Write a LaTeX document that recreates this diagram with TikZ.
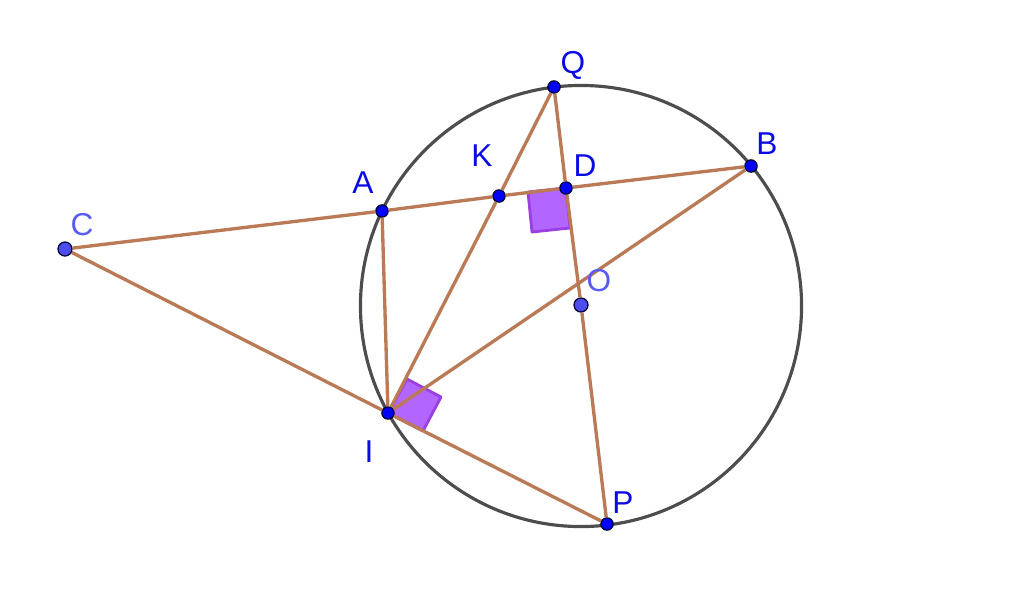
\documentclass[tikz,border=0pt]{standalone}
\usepackage{fontspec}
\setmainfont{Liberation Sans}
\usepackage{xcolor}
\usepackage{tikz}
\usetikzlibrary{calc}
\definecolor{segcol}{HTML}{BA7A55}
\definecolor{circcol}{HTML}{4D4D4D}
\definecolor{sqfill}{HTML}{B266FF}
\definecolor{sqline}{HTML}{9A3FE0}
\definecolor{labcol}{HTML}{0A0AE6}
\definecolor{labfree}{HTML}{5A5AF5}
\definecolor{ptfree}{HTML}{4D4DEE}
\tikzset{
	seg/.style={draw=segcol, line width=1.9pt},
	sq/.style={draw=sqline, fill=sqfill, line width=1.6pt, line join=round},
	pt/.style={circle, draw=black!80!blue, fill=blue, line width=0.7pt, inner sep=0pt, minimum size=7pt},
	ptf/.style={pt, fill=ptfree, minimum size=8pt},
	lab/.style={text=labcol, inner sep=0pt, font=\fontsize{18}{18}\selectfont},
	labf/.style={lab, text=labfree}
}
\begin{document}
\begin{tikzpicture}[x=0.02cm, y=-0.02cm]
	\useasboundingbox (0,0) rectangle (1024,600);
	
	% circle
	\draw[circcol, line width=1.8pt] (581,306) circle (11.03*0.4cm);
	
	% right angle marks
	\path[sq] (388,413) -- (407,379) -- (441,397) -- (423,431) -- cycle;
	\path[sq] (566,188) -- (570,228) -- (532,232) -- (528,192) -- cycle;
	
	% points
	\node[ptf] (C) at (65,249) {};
	\node[pt] (A) at (382,211) {};
	\node[pt] (K) at (499,196) {};
	\node[pt] (D) at (566,188) {};
	\node[pt] (B) at (751,166) {};
	\node[pt] (Q) at (554,87) {};
	\node[ptf] (O) at (581,305) {};
	\node[pt] (I) at (388,413) {};
	\node[pt] (P) at (607,524) {};
	
	% chord through C
	\draw[seg] (C) -- (A);
	\draw[seg] (A) -- (K);
	\draw[seg] (K) -- (D);
	\draw[seg] (D) -- (B);
	
	% diameter QP
	\draw[seg] (Q) -- (D);
	\draw[seg] (D) -- (O);
	\draw[seg] (O) -- (P);
	
	% tangent at I
	\draw[seg] (C) -- (I);
	\draw[seg] (I) -- (P);
	
	% from I
	\draw[seg] (A) -- (I);
	\draw[seg] (I) -- (K);
	\draw[seg] (K) -- (Q);
	\draw[seg] (I) -- (B);
	
	% labels
	\node[labf] (labC) at (82,225) {C};
	\node[lab] (labA) at (363,183) {A};
	\node[lab] (labK) at (482,156) {K};
	\node[lab] (labD) at (585,166) {D};
	\node[lab] (labB) at (767,144) {B};
	\node[lab] (labQ) at (573,65.5) {Q};
	\node[labf] (labO) at (599,281) {O};
	\node[lab] (labI) at (369,452) {I};
	\node[lab] (labP) at (623,503) {P};
\end{tikzpicture}
\end{document}
